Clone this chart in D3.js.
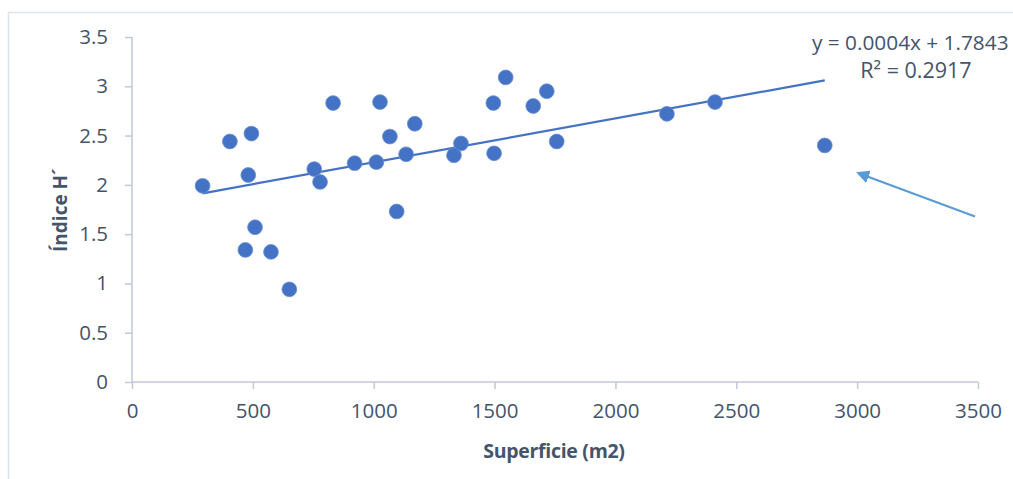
<!DOCTYPE html>
<html>
<head>
<meta charset="utf-8">
<script src="https://cdn.jsdelivr.net/npm/d3@7"></script>
<style>
  body { margin: 0; background: #fff; }
  text { font-family: "Open Sans", "Noto Sans", sans-serif; fill: #44546a; }
</style>
</head>
<body>
<div id="chart"></div>
<script>
// superficie (m2) and Shannon index H' per site
const superficie = [292, 405, 494, 481, 509, 469, 575, 651, 754, 778, 832, 921, 1011, 1026, 1067,
                    1095, 1134, 1170, 1332, 1361, 1495, 1498, 1546, 1660, 1716, 1757, 2213, 2412, 2866];
const indiceH = [1.99, 2.44, 2.52, 2.10, 1.57, 1.34, 1.32, 0.94, 2.16, 2.03, 2.83, 2.22, 2.23, 2.84, 2.49,
                 1.73, 2.31, 2.62, 2.30, 2.42, 2.83, 2.32, 3.09, 2.80, 2.95, 2.44, 2.72, 2.84, 2.40];
const xTicks = [0, 500, 1000, 1500, 2000, 2500, 3000, 3500];
const yTicks = [0, 0.5, 1, 1.5, 2, 2.5, 3, 3.5];
// linear trend as drawn in the picture
const trendSlope = 0.000445;
const trendIntercept = 1.7843;
const trendLabel = ["y = 0.0004x + 1.7843", "R² = 0.2917"];

const width = 1013, height = 479;
const svg = d3.select("#chart").append("svg")
    .attr("width", width)
    .attr("height", height);

// chart frame (cut off at right and bottom)
svg.append("rect")
    .attr("x", 8.5).attr("y", 12.5)
    .attr("width", 1100).attr("height", 600)
    .attr("fill", "none")
    .attr("stroke", "#dde2e8")
    .attr("stroke-width", 1.5);

const x = d3.scaleLinear().domain([0, 3500]).range([132, 978]);
const y = d3.scaleLinear().domain([0, 3.5]).range([382, 37]);

const axisColor = "#bfc9d9";

// y axis
const gy = svg.append("g")
    .attr("transform", "translate(132,0)")
    .call(d3.axisLeft(y).tickValues(yTicks).tickSize(7).tickPadding(17).tickFormat(d3.format("")));
gy.selectAll("text").attr("font-size", 20.5).style("fill", "#44546a");

// x axis
const gx = svg.append("g")
    .attr("transform", "translate(0,382)")
    .call(d3.axisBottom(x).tickValues(xTicks).tickSize(7).tickPadding(14).tickFormat(d3.format("")));
gx.selectAll("text").attr("font-size", 20.5).style("fill", "#44546a");

[gx, gy].forEach(g => {
    g.selectAll("path, line").attr("stroke", axisColor).attr("stroke-width", 1.5);
    g.select(".domain").attr("d", g === gx ? "M132,0H978" : "M0,382V37");
});

// axis titles
svg.append("text")
    .attr("x", 554).attr("y", 458)
    .attr("text-anchor", "middle")
    .attr("font-size", 19.5).attr("font-weight", "bold")
    .attr("letter-spacing", -0.3)
    .text("Superficie (m2)");

svg.append("text")
    .attr("transform", "translate(67,210) rotate(-90)")
    .attr("text-anchor", "middle")
    .attr("font-size", 19).attr("font-weight", "bold")
    .text("Índice H´");

// trend line
const xExt = d3.extent(superficie);
svg.append("line")
    .attr("x1", x(xExt[0])).attr("y1", y(trendSlope * xExt[0] + trendIntercept))
    .attr("x2", x(xExt[1])).attr("y2", y(trendSlope * xExt[1] + trendIntercept))
    .attr("stroke", "#4472c4")
    .attr("stroke-width", 2.2);

// points
const pts = superficie.map((s, i) => ({ s: s, h: indiceH[i] }));
svg.append("g")
    .selectAll("circle")
    .data(pts)
    .enter().append("circle")
    .attr("cx", d => x(d.s))
    .attr("cy", d => y(d.h))
    .attr("r", 7.4)
    .attr("fill", "#4472c4")
    .attr("stroke", "#6c8fd0")
    .attr("stroke-width", 0.8);

// trend equation
svg.append("text")
    .attr("x", 812).attr("y", 50)
    .attr("font-size", 20.8)
    .text(trendLabel[0]);
svg.append("text")
    .attr("x", 916).attr("y", 78)
    .attr("text-anchor", "middle")
    .attr("font-size", 21.5)
    .text(trendLabel[1]);

// arrow pointing at the outlier
svg.append("defs").append("marker")
    .attr("id", "head")
    .attr("viewBox", "0 0 10 10")
    .attr("refX", 2).attr("refY", 5)
    .attr("markerWidth", 6).attr("markerHeight", 6)
    .attr("markerUnits", "strokeWidth")
    .attr("orient", "auto")
    .append("path")
    .attr("d", "M0,0L10,5L0,10Z")
    .attr("fill", "#5b9bd5");

svg.append("line")
    .attr("x1", 975).attr("y1", 216.5)
    .attr("x2", 866).attr("y2", 176)
    .attr("stroke", "#5b9bd5")
    .attr("stroke-width", 2.2)
    .attr("marker-end", "url(#head)");
</script>
</body>
</html>
